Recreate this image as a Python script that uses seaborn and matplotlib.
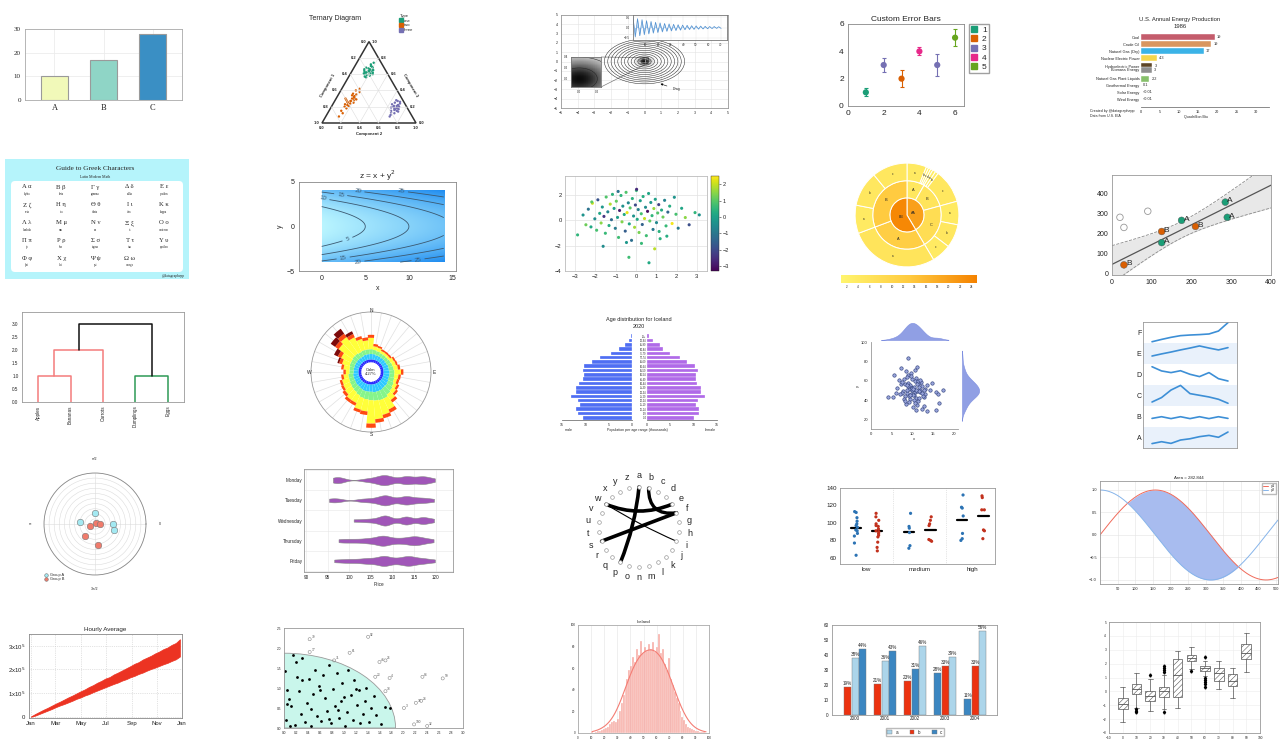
import numpy as np
import pandas as pd
import matplotlib.pyplot as plt
import seaborn as sns
from matplotlib.colors import LinearSegmentedColormap, Normalize
from matplotlib.cm import ScalarMappable
from matplotlib.lines import Line2D
from matplotlib.patches import Patch, Polygon, Rectangle, FancyBboxPatch, PathPatch, Wedge
from matplotlib.path import Path
from matplotlib.ticker import MultipleLocator

W, H = 1280, 740

# ---------------- data ----------------
# 1. simple bars
bar_cats = ["A", "B", "C"]
bar_vals = [10, 17, 28]
bar_colors = ["#f1f9b9", "#8fd5c6", "#3a8fc4"]

# 2. ternary diagram (component 2, component 3; component 1 = remainder)
tern_one_c2 = [0.15, 0.18, 0.20, 0.17, 0.22, 0.13, 0.19, 0.16, 0.21, 0.18, 0.14, 0.20, 0.23, 0.17,
               0.19, 0.12, 0.16, 0.21, 0.18, 0.15, 0.19, 0.24, 0.17, 0.20, 0.16, 0.18, 0.13, 0.22]
tern_one_c3 = [0.62, 0.66, 0.60, 0.70, 0.58, 0.64, 0.63, 0.67, 0.65, 0.59, 0.61, 0.68, 0.62, 0.63,
               0.56, 0.66, 0.72, 0.61, 0.64, 0.60, 0.69, 0.60, 0.57, 0.64, 0.62, 0.74, 0.68, 0.65]
tern_two_c2 = [0.17, 0.15, 0.19, 0.14, 0.20, 0.18, 0.16, 0.21, 0.13, 0.17, 0.19, 0.15, 0.22, 0.18, 0.16,
               0.14, 0.20, 0.17, 0.19, 0.12, 0.18, 0.16, 0.21, 0.15, 0.18, 0.10, 0.17, 0.14, 0.19, 0.13]
tern_two_c3 = [0.30, 0.25, 0.35, 0.20, 0.28, 0.32, 0.22, 0.38, 0.15, 0.27, 0.31, 0.34, 0.29, 0.24, 0.40,
               0.26, 0.30, 0.18, 0.42, 0.28, 0.33, 0.12, 0.25, 0.36, 0.21, 0.30, 0.27, 0.08, 0.31, 0.23]
tern_three_c2 = [0.68, 0.70, 0.66, 0.72, 0.65, 0.69, 0.71, 0.67, 0.74, 0.63, 0.70, 0.68, 0.66,
                 0.72, 0.69, 0.64, 0.71, 0.67, 0.70, 0.73, 0.66, 0.69, 0.68, 0.71, 0.65, 0.70]
tern_three_c3 = [0.18, 0.22, 0.20, 0.15, 0.25, 0.17, 0.12, 0.27, 0.14, 0.23, 0.19, 0.10, 0.21,
                 0.20, 0.16, 0.19, 0.24, 0.13, 0.26, 0.17, 0.15, 0.21, 0.08, 0.18, 0.28, 0.22]
tern_palette = {"one": "#1b9e77", "two": "#d95f02", "three": "#7570b3"}

# 3. zoom-inset demo: damped oscillation for the top inset
osc_vals = [0.50, -0.47, 0.44, -0.41, 0.39, -0.36, 0.34, -0.32, 0.30, -0.28, 0.26, -0.25, 0.23, -0.22,
            0.20, -0.19, 0.18, -0.17, 0.16, -0.15, 0.14, -0.13, 0.12, -0.11, 0.11, -0.10, 0.09, -0.09,
            0.08, -0.08, 0.07, -0.07, 0.06, -0.06, 0.05, -0.05, 0.05, -0.04, 0.04, -0.04]
OSC_STEP = 1.8

# 4. custom error bars
eb_x = [1, 2, 3, 4, 5, 6]
eb_y = [1, 3, 2, 4, 3, 5]
eb_err = [0.3, 0.5, 0.6, 0.3, 0.8, 0.6]
eb_group = ["1", "3", "2", "4", "3", "5"]
eb_palette = {"1": "#1b9e77", "2": "#d95f02", "3": "#7570b3", "4": "#e7298a", "5": "#66a61e"}

# 5. energy production 1986
en_names = ["Coal", "Crude Oil", "Natural Gas (Dry)", "Nuclear Electric Power", "Hydroelectric Power",
            "Biomass Energy", "Natural Gas Plant Liquids", "Geothermal Energy", "Solar Energy", "Wind Energy"]
en_vals = [19.4, 18.4, 16.5, 4.3, 3.0, 2.9, 2.2, 0.1, 0.005, 0.005]
en_labels = ["19", "19", "17", "4.3", "3", "3", "2.2", "0.1", "<0.01", "<0.01"]
en_rank = [0, 1, 2, 3, 4.1, 4.6, 5.9, 6.8, 7.8, 8.8]
en_colors = ["#c45c6c", "#d9965f", "#3bb3e7", "#f6d64c", "#5d4526", "#8f8f8f", "#87c06b",
             "#b07aa1", "#ffd700", "#aaddaa"]

# 6. greek characters
greek_pairs = ["Α α", "Β β", "Γ γ", "Δ δ", "Ε ε", "Ζ ζ", "Η η", "Θ θ", "Ι ι", "Κ κ", "Λ λ", "Μ μ",
               "Ν ν", "Ξ ξ", "Ο ο", "Π π", "Ρ ρ", "Σ σ", "Τ τ", "Υ υ", "Φ φ", "Χ χ", "Ψ ψ", "Ω ω"]
greek_names = ["alpha", "beta", "gamma", "delta", "epsilon", "zeta", "eta", "theta", "iota", "kappa",
               "lambda", "mu", "nu", "xi", "omicron", "pi", "rho", "sigma", "tau", "upsilon",
               "phi", "chi", "psi", "omega"]

# 7. contour levels
ct_levels = [5, 10, 15, 20, 25]

# 8. scatter with colour bar
sc_x = [-2.88, -2.61, -2.47, -2.35, -2.22, -2.15, -2.03, -1.94, -1.88, -1.79,
        -1.72, -1.66, -1.58, -1.51, -1.47, -1.39, -1.33, -1.27, -1.21, -1.16,
        -1.08, -1.02, -0.97, -0.91, -0.86, -0.81, -0.74, -0.69, -0.65, -0.58,
        -0.53, -0.49, -0.44, -0.38, -0.33, -0.29, -0.22, -0.18, -0.12, -0.07,
        -0.03, 0.02, 0.06, 0.11, 0.15, 0.21, 0.26, 0.31, 0.35, 0.42,
        0.47, 0.51, 0.57, 0.62, 0.68, 0.73, 0.79, 0.84, 0.88, 0.95,
        1.01, 1.07, 1.12, 1.19, 1.26, 1.33, 1.41, 1.48, 1.57, 1.66,
        1.78, 1.89, 1.97, 2.08, 2.25, 2.43, 2.62, 2.91, 3.12, -0.35,
        0.92, 0.64, -1.62, -0.88, 0.27, 1.52, -2.18, 0.03, 1.14, -0.47]
sc_y = [-1.15, 0.42, -0.35, 0.88, -0.52, 1.35, 0.12, -0.78, 1.62, 0.55,
        -0.21, 1.05, 0.31, -1.02, 1.84, 0.67, -0.41, 1.28, 0.05, 2.05,
        0.94, -0.63, 1.51, 0.23, -1.35, 0.78, 1.96, -0.12, 1.12, 0.46,
        -0.85, 2.21, 0.61, 1.38, -0.28, 0.98, -1.58, 1.72, 0.34, -0.55,
        1.21, 2.36, 0.08, 0.85, -0.96, 1.55, 0.52, -0.33, 1.88, 0.14,
        1.03, -1.21, 0.71, 2.12, -0.05, 1.41, 0.37, -0.72, 0.93, 1.66,
        -0.18, 0.58, 1.24, -1.45, 0.81, 0.26, 1.58, -0.44, 0.65, 1.12,
        -0.25, 1.82, 0.48, -0.62, 0.95, 0.22, -0.35, 0.61, 0.43, -2.92,
        -2.25, -3.35, -2.05, 2.28, -1.82, -1.25, 1.45, 2.45, -0.88, -1.75]
sc_c = [0.5, -0.3, 1.2, -1.1, 0.2, 2.1, -0.5, 0.8, -1.8, 0.1,
        1.5, -0.2, -2.4, 0.6, 0.9, -0.7, 0.3, 1.8, -1.3, 0.4,
        0.0, -0.9, 1.1, -0.1, 0.7, -2.8, 0.5, 1.4, -0.4, 0.2,
        -1.6, 0.9, 2.3, -0.6, 0.1, 1.0, -1.2, 0.4, -0.3, 1.7,
        -2.0, 0.6, 0.2, -0.8, 1.3, -0.1, 0.8, -1.5, 0.3, 2.0,
        -0.5, 0.7, -3.1, 0.1, 1.1, -0.2, 0.5, -1.0, 1.6, 0.0,
        -0.6, 0.9, -2.2, 0.4, 0.2, 1.2, -0.7, 0.6, -1.4, 0.3,
        2.4, -0.3, 0.8, -0.9, 0.1, 1.5, -1.9, 0.5, -0.4, 0.7,
        1.9, 0.2, -0.5, -1.1, 0.6, 0.3, 1.0, -2.6, 0.4, -0.2]

# 9. sunburst (sizes and colour values per ring)
sb_inner_labels = ["AA", "BB"]
sb_inner_vals = [17, 24]
sb_inner_heat = [20, 24]
sb_mid_labels = ["A", "B", "C", "A", "B"]
sb_mid_vals = [3.4, 5.1, 8.5, 11.4, 12.6]
sb_mid_heat = [5, 6, 8, 12, 13]
sb_outer_labels = ["a", "b", "c", "d", "a", "b", "c", "a", "b", "c", "a", "a", "b", "c"]
sb_outer_vals = [2.5, 0.3, 0.3, 0.3, 0.4, 0.4, 4.3, 3.0, 3.0, 2.5, 11.4, 3.6, 4.5, 4.5]
sb_outer_heat = [4, 3, 3, 3, 3, 3, 5, 4, 5, 4, 6, 4, 5, 5]

# 10. regression with labelled points
reg_x = [30, 125, 125, 175, 210, 285, 290]
reg_y = [45, 155, 210, 265, 235, 355, 280]
reg_grp = ["B", "A", "B", "A", "B", "A", "A"]
reg_out_x = [20, 30, 90]
reg_out_y = [280, 230, 310]
T_CRIT = 2.571

# 11. dendrogram (left, right, height, colour)
dendro_labels = ["Apples", "Bananas", "Carrots", "Dumplings", "Eggs"]
dendro_links = [(0, 1, 1.0, "#f47c7c"), (3, 4, 1.0, "#2e9a56"), (5, 2, 2.0, "#f47c7c"), (6, 7, 3.0, "#111111")]

# 12. wind rose (10 degree sectors, stacked speed bins)
wind_dirs = list(range(0, 360, 10))
CALM_R = 15
wind_blue = [6, 6, 6, 6, 6, 6, 6, 6, 6, 6, 6, 6, 6, 6, 6, 6, 6, 6,
             6, 6, 6, 6, 6, 6, 6, 6, 6, 6, 6, 6, 6, 6, 6, 6, 6, 6]
wind_cyan = [9, 9, 8, 8, 8, 8, 8, 9, 9, 10, 10, 10, 11, 12, 12, 13, 13, 13,
             12, 12, 12, 11, 10, 10, 9, 9, 9, 8, 8, 8, 8, 8, 8, 8, 9, 9]
wind_green = [8, 7, 7, 6, 6, 6, 7, 7, 8, 8, 8, 9, 10, 11, 13, 15, 15, 14,
              14, 13, 12, 11, 10, 9, 9, 8, 8, 7, 7, 8, 8, 9, 9, 8, 8, 8]
wind_yellow = [19, 6, 6, 4, 4, 4, 6, 6, 7, 11, 7, 5, 6, 7, 11, 20, 25, 31,
               39, 20, 20, 14, 16, 13, 12, 12, 8, 6, 10, 13, 18, 28, 33, 27, 19, 15]
wind_red = [5, 4, 3, 3, 3, 3, 3, 3, 4, 4, 4, 4, 4, 4, 5, 6, 6, 6,
            7, 6, 5, 5, 5, 5, 4, 4, 4, 4, 4, 5, 6, 7, 7, 6, 5, 5]
wind_dark = [0, 0, 0, 0, 0, 0, 0, 0, 0, 0, 0, 0, 0, 0, 0, 0, 0, 0,
             0, 0, 0, 0, 0, 0, 0, 0, 0, 0, 0, 3, 7, 9, 10, 5, 0, 0]
wind_colors = ["#2a2aff", "#2fcaff", "#86f58a", "#ffff3a", "#ff4a12", "#7d0a0a"]

# 13. Iceland population pyramid 2020 (thousands)
age_groups = ["0-4", "5-9", "10-14", "15-19", "20-24", "25-29", "30-34", "35-39", "40-44", "45-49",
              "50-54", "55-59", "60-64", "65-69", "70-74", "75-79", "80-84", "85-89", "90-94", "95+"]
male_vals = [10.6, 11.5, 12.0, 11.2, 11.5, 13.1, 12.0, 12.0, 11.3, 10.6,
             10.3, 10.4, 10.3, 8.5, 6.9, 4.5, 2.7, 1.6, 0.7, 0.3]
female_vals = [10.1, 11.2, 11.2, 10.6, 11.0, 12.4, 11.5, 11.5, 10.8, 10.4,
               10.4, 11.0, 10.2, 8.6, 7.0, 5.0, 3.5, 2.7, 1.2, 0.35]

# 14. joint plot
jx = [10.2, 8.7, 11.5, 9.4, 12.3, 7.8, 10.9, 9.1, 11.8, 8.2, 10.5, 13.1, 9.8, 7.2, 11.1, 10.0, 8.9, 12.7,
      9.5, 10.7, 6.8, 11.4, 9.2, 10.3, 13.6, 8.5, 10.8, 9.9, 12.0, 7.5, 10.1, 11.7, 8.0, 9.6, 14.2, 10.4,
      8.3, 11.2, 9.7, 12.5, 6.3, 10.6, 9.0, 11.9, 8.6, 10.2, 13.0, 9.3, 7.9, 11.3, 10.9, 8.8, 12.2, 9.4,
      5.2, 10.0, 11.6, 8.4, 9.8, 14.8, 7.0, 10.7, 12.8, 9.1, 11.0, 8.1, 10.3, 15.6, 9.6, 11.5, 7.6, 10.8,
      12.4, 8.9, 6.0, 11.8, 9.5, 10.1, 13.4, 8.7, 9.0, 16.5, 17.3, 4.2, 15.8, 5.6, 12.9, 7.3, 16.1, 11.1]
jy = [52, 47, 58, 41, 55, 49, 63, 38, 51, 44, 60, 46, 53, 57, 35, 50, 66, 43, 54, 48, 61, 39, 52, 45,
      56, 70, 42, 50, 59, 47, 33, 54, 62, 46, 51, 40, 57, 49, 68, 44, 53, 37, 58, 48, 64, 45, 52, 55,
      41, 60, 30, 50, 47, 56, 43, 62, 49, 36, 53, 58, 46, 72, 51, 44, 57, 39, 54, 48, 65, 42, 59, 50,
      31, 55, 47, 61, 45, 52, 28, 56, 84, 37, 50, 43, 29, 66, 34, 74, 46, 75]

# 15. stacked line rows
line_cats = ["A", "B", "C", "D", "E", "F"]
line_vals = [
    [0.21, 0.30, 0.22, 0.38, 0.44, 0.54, 0.60, 0.51, 0.76],
    [0.41, 0.49, 0.40, 0.49, 0.40, 0.49, 0.40, 0.49, 0.41],
    [0.19, 0.40, 0.76, 0.98, 0.59, 0.51, 0.43, 0.32, 0.13],
    [0.87, 0.67, 0.59, 0.68, 0.51, 0.40, 0.59, 0.30, 0.19],
    [0.38, 0.48, 0.57, 0.67, 0.76, 0.86, 0.76, 0.67, 0.78],
    [0.06, 0.17, 0.27, 0.35, 0.38, 0.40, 0.43, 0.57, 0.97],
]

# 16. polar scatter
pol_a_theta = [90, 173, 359, 342]
pol_a_r = [1.05, 1.45, 1.73, 2.0]
pol_b_theta = [205, 40, 0, 231, 279]
pol_b_r = [0.55, 0.08, 0.52, 1.5, 2.05]

# 17. violins
vio_days = ["Monday", "Tuesday", "Wednesday", "Thursday", "Friday"]
vio_prices = [
    [96.2, 97.0, 97.5, 98.4, 103.5, 105.0, 106.2, 107.0, 107.5, 108.0, 108.3, 108.8, 109.5, 110.3,
     112.2, 112.8, 113.2, 113.6, 114.5, 115.8, 116.6, 117.0, 117.5, 118.5, 119.8],
    [95.3, 96.5, 97.8, 102.5, 104.0, 105.5, 106.5, 107.5, 108.0, 108.3, 108.6, 109.0, 110.0, 111.5,
     112.5, 113.0, 113.4, 113.8, 115.0, 116.0, 117.0, 118.0, 119.6],
    [101.0, 103.0, 104.5, 105.8, 106.8, 107.5, 108.0, 108.3, 108.6, 109.2, 110.0, 111.5, 112.6, 113.0,
     113.4, 114.0, 115.2, 116.5, 117.0, 117.4, 118.5, 119.6],
    [97.5, 99.0, 100.5, 102.0, 103.5, 104.5, 105.5, 106.5, 107.0, 107.5, 108.0, 108.5, 109.0, 110.0,
     111.0, 112.0, 113.0, 113.8, 114.5, 115.0, 115.6, 116.2, 117.0, 118.0, 119.5],
    [96.5, 98.5, 100.0, 101.5, 103.0, 104.0, 105.0, 106.0, 107.0, 107.6, 108.0, 108.4, 109.0, 110.0,
     111.0, 112.0, 112.8, 113.3, 113.8, 114.4, 115.0, 116.0, 117.0, 118.0, 119.8],
]

# 18. circular network
chord_letters = list("abcdefghijklmnopqrstuvwxyz")
chord_edges = [("w", "e", 2.6), ("s", "f", 2.6), ("p", "a", 2.6), ("b", "f", 2.4), ("w", "i", 0.8)]

# 19. strip plot with means
strip_levels = ["low", "medium", "high"]
strip_blue = [[113, 112, 106, 102, 99, 97, 95, 92, 91, 88, 85, 77, 63],
              [111, 96, 94, 89, 74, 71],
              [132, 118, 117, 108, 88, 82, 80]]
strip_red = [[111, 107, 103, 99, 97, 96, 93, 91, 90, 88, 86, 84, 78, 72, 68],
             [107, 103, 99, 97, 81, 80, 79],
             [131, 129, 115, 115, 92, 91, 82]]

# 20. sin / cos area
WAVE_SCALE = 100.0
WAVE_XMAX = 505

# 21. hourly average band (units of 1e5)
hr_days = list(range(0, 361, 10))
hr_high = [0.02, 0.12, 0.21, 0.30, 0.38, 0.47, 0.56, 0.64, 0.73, 0.82, 0.90, 0.99, 1.08, 1.16, 1.26, 1.34,
           1.44, 1.52, 1.62, 1.68, 1.79, 1.87, 1.96, 2.05, 2.14, 2.24, 2.31, 2.42, 2.50, 2.58, 2.68, 2.76,
           2.86, 2.93, 3.04, 3.12, 3.28]
hr_low = [0.00, 0.05, 0.12, 0.19, 0.26, 0.33, 0.41, 0.48, 0.54, 0.61, 0.68, 0.76, 0.82, 0.90, 0.96, 1.04,
          1.11, 1.18, 1.25, 1.32, 1.39, 1.45, 1.53, 1.59, 1.67, 1.73, 1.81, 1.87, 1.95, 2.02, 2.08, 2.15,
          2.22, 2.28, 2.36, 2.43, 2.55]
month_pos = [0, 59, 120, 181, 243, 304, 365]
month_lab = ["Jan", "Mar", "May", "Jul", "Sep", "Nov", "Jan"]

# 22. quarter circle scatter
Q_RADIUS = 1.87
q_in_x = [0.02, 0.05, 0.08, 0.03, 0.12, 0.15, 0.18, 0.22, 0.25, 0.28, 0.31, 0.35, 0.38, 0.42, 0.45,
          0.48, 0.52, 0.55, 0.58, 0.62, 0.65, 0.68, 0.72, 0.75, 0.78, 0.82, 0.85, 0.88, 0.92, 0.95,
          0.98, 1.02, 1.05, 1.08, 1.12, 1.15, 1.18, 1.22, 1.25, 1.28, 1.32, 1.35, 1.38, 1.42, 1.45,
          1.5, 1.55, 1.62, 1.7, 1.78, 0.1, 0.3, 0.6, 0.9, 1.2, 0.45, 0.75, 0.2, 1.0, 0.05]
q_in_y = [1.42, 0.95, 0.72, 0.2, 0.55, 1.82, 0.08, 1.28, 0.92, 0.35, 1.75, 0.15, 0.62, 1.22, 0.05,
          0.85, 1.45, 0.3, 1.05, 0.18, 1.33, 0.75, 0.42, 1.58, 0.12, 0.98, 0.55, 1.37, 0.25, 0.68,
          1.12, 0.05, 0.4, 1.44, 0.82, 0.2, 1.2, 0.58, 0.95, 0.12, 0.35, 0.68, 1.0, 0.15, 0.5,
          0.8, 0.32, 0.1, 0.52, 0.5, 0.05, 1.2, 0.95, 0.45, 0.98, 0.48, 0.22, 1.65, 0.78, 0.6]
q_out_x = [0.43, 1.41, 0.43, 0.84, 1.10, 1.60, 1.70, 1.53, 1.77, 1.70, 2.32, 2.66, 2.01, 2.21, 2.30, 2.18, 2.40]
q_out_y = [2.22, 2.28, 1.90, 1.69, 1.88, 1.65, 1.69, 1.28, 1.25, 0.92, 1.28, 1.24, 0.50, 0.63, 0.68, 0.09, 0.05]
q_out_lab = ["79", "92", "17", "71", "61", "46", "26", "23", "4", "33", "84", "59", "3", "38", "24", "100", "32"]

# 23. histogram (bins of width 1.5 starting at 10)
HIST_START, HIST_WIDTH = 10.0, 1.5
hist_counts = [1, 0, 1, 2, 2, 3, 4, 5, 6, 8, 10, 11, 10, 13, 20, 28, 35, 42, 50, 58,
               62, 70, 66, 78, 72, 85, 74, 80, 76, 82, 78, 84, 75, 80, 92, 74, 78, 64, 58, 69,
               50, 44, 38, 32, 28, 20, 15, 12, 8, 6, 5, 4, 3, 2, 2, 1, 1, 1, 0]

# 24. grouped bars (sorted within group)
gb_years = ["2000", "2001", "2002", "2003", "2004"]
gb_a = [38, 36, 46, 39, 56]
gb_b = [19, 21, 23, 33, 33]
gb_c = [44, 43, 31, 28, 11]
gb_colors = {"a": "#acd5ea", "b": "#ec3210", "c": "#3b86c1"}

# 25. hatched box plots
box_pos = [0, 10, 20, 30, 40, 50, 60, 70, 80, 90]
box_q1 = [-1.3, -0.2, -0.7, -0.4, -0.4, 2.2, 1.5, 0.75, 0.4, 2.3]
box_med = [-0.9, 0.15, -0.3, 0.0, 1.2, 2.4, 1.65, 1.35, 0.75, 2.75]
box_q3 = [-0.5, 0.5, 0.0, 0.3, 2.3, 2.65, 1.8, 1.7, 1.25, 3.4]
box_lo = [-2.2, -1.2, -1.4, -1.3, -1.2, 1.6, 1.1, 0.2, -0.5, 1.4]
box_hi = [0.3, 1.3, 0.9, 1.2, 2.9, 3.2, 2.2, 2.2, 1.7, 4.2]
box_fliers = [[], [-1.3, -1.4, -1.5], [1.15], [1.4, 1.55, 1.7, 1.85, -1.5], [], [1.5],
              [2.5, 1.0, 0.85, 0.7, 0.5, 0.3], [], [], []]

# ---------------- style ----------------
sns.set_style("white")
plt.rcParams["font.family"] = ["Liberation Sans", "DejaVu Sans"]
plt.rcParams["hatch.linewidth"] = 0.4
SERIF = ["Liberation Serif", "DejaVu Serif"]

fig = plt.figure(figsize=(12.8, 7.4), dpi=100)
fig.patch.set_facecolor("white")


def add_ax(x, y, w, h, **kw):
    return fig.add_axes([x / W, 1 - (y + h) / H, w / W, h / H], **kw)


def ftext(x, y, s, **kw):
    fig.text(x / W, 1 - y / H, s, **kw)


def tiny(ax, size=3.5, length=1.5, color="#888888"):
    ax.tick_params(which="both", labelsize=size, length=length, width=0.4, pad=1,
                   color=color, labelcolor="#222222")
    ax.tick_params(which="minor", length=length * 0.6)
    for sp in ax.spines.values():
        sp.set_linewidth(0.6)
        sp.set_color(color)


# ---- 1. bar chart ----
ax = add_ax(25, 29, 157, 71)
sns.barplot(x=bar_cats, y=bar_vals, hue=bar_cats, palette=bar_colors, legend=False, width=0.55,
            edgecolor="#9a9a9a", linewidth=0.8, saturation=1, ax=ax)
ax.set_xlim(-0.6, 2.6)
ax.set_ylim(0, 30)
ax.set_yticks([0, 10, 20, 30])
ax.yaxis.set_minor_locator(MultipleLocator(2))
ax.grid(True, color="#ececec", lw=0.6)
ax.set_axisbelow(True)
tiny(ax, 5, 2, "#aaaaaa")
for lab in ax.get_xticklabels() + ax.get_yticklabels():
    lab.set_family(SERIF)
ax.tick_params(axis="x", labelsize=6)

# ---- 2. ternary ----
ax = add_ax(290, 8, 150, 137)
ax.set_xlim(-32 / 94, 118 / 94)
ax.set_ylim(-22 / 94, 115 / 94)
ax.axis("off")
h3 = np.sqrt(3) / 2
for t in [0.2, 0.4, 0.6, 0.8]:
    ax.plot([t / 2, 1 - t / 2], [t * h3, t * h3], color="#dddddd", lw=0.4)
    ax.plot([t, t + (1 - t) / 2], [0, (1 - t) * h3], color="#dddddd", lw=0.4)
    ax.plot([1 - t, (1 - t) / 2], [0, (1 - t) * h3], color="#dddddd", lw=0.4)
ax.add_patch(Polygon([(0, 0), (1, 0), (0.5, h3)], closed=True, fill=False, ec="#333333", lw=1.1))
for t in np.arange(0, 1.01, 0.2):
    ax.text(t, -0.05, f"{t:.1f}", ha="center", va="center", fontsize=3, weight="bold")
    ax.text((1 - t) / 2 - 0.06, (1 - t) * h3, f"{t:.1f}", ha="center", va="center", fontsize=3, weight="bold")
    ax.text(1 - t / 2 + 0.06, t * h3, f"{t:.1f}", ha="center", va="center", fontsize=3, weight="bold")
ax.text(0.06, 0.40, "Component 1", rotation=60, ha="center", va="center", fontsize=3, weight="bold")
ax.text(0.94, 0.40, "Component 3", rotation=-60, ha="center", va="center", fontsize=3, weight="bold")
ax.text(0.5, -0.12, "Component 2", ha="center", va="center", fontsize=3, weight="bold")
tern_rows = []
for name, c2s, c3s in [("one", tern_one_c2, tern_one_c3), ("two", tern_two_c2, tern_two_c3),
                       ("three", tern_three_c2, tern_three_c3)]:
    for c2, c3 in zip(c2s, c3s):
        tern_rows.append((name, c2 + c3 / 2, c3 * h3))
tern_df = pd.DataFrame(tern_rows, columns=["Type", "px", "py"])
sns.scatterplot(data=tern_df, x="px", y="py", hue="Type", palette=tern_palette, s=3, linewidth=0,
                legend=False, ax=ax)
ax.text(-0.14, 1.117, "Ternary Diagram", fontsize=5, va="center")
handles = [Line2D([], [], marker="s", ls="", color=c, ms=2.5, label=k) for k, c in tern_palette.items()]
ax.legend(handles=handles, title="Type", loc="upper left", bbox_to_anchor=(0.72, 0.97), frameon=False,
          fontsize=3, title_fontsize=3, handlelength=0.6, handletextpad=0.3, labelspacing=0.15,
          borderpad=0, alignment="left")

# ---- 3. zoom inset demo ----
ax = add_ax(561, 15, 167, 93)
gx = np.linspace(-5, 5, 400)
GX, GY = np.meshgrid(gx, gx)
GR = np.hypot(GX, GY)
field = np.exp(-(GR / 0.35) ** 2)
ax.imshow(field, extent=(-5, 5, -5, 5), origin="lower", cmap="gray_r", vmin=0, vmax=1.05,
          aspect="auto", zorder=0)
ax.contour(GX, GY, GR, levels=np.arange(0.2, 2.45, 0.2), colors="#222222", linewidths=0.35)
ax.set_xlim(-5, 5)
ax.set_ylim(-5, 5)
ax.set_xticks(range(-5, 6))
ax.set_yticks(range(-5, 6))
ax.xaxis.set_minor_locator(MultipleLocator(0.25))
ax.yaxis.set_minor_locator(MultipleLocator(0.25))
ax.grid(True, color="#e4e4e4", lw=0.4)
tiny(ax, 2.6, 1.2, "#999999")
ax.annotate("Drag", xy=(0.8, -2.3), xytext=(1.7, -3.0), fontsize=2.6, va="center",
            arrowprops=dict(arrowstyle="-|>", lw=0.4, color="black", mutation_scale=3))
axi = add_ax(571, 57, 30, 30)
axi.imshow(field, extent=(-5, 5, -5, 5), origin="lower", cmap="gray_r", vmin=0, vmax=1.05, aspect="auto")
axi.contour(GX, GY, GR, levels=np.arange(0.2, 2.45, 0.2), colors="#222222", linewidths=0.35)
axi.set_xlim(-0.09, 0.24)
axi.set_ylim(-0.15, 0.40)
axi.set_xticks([0, 0.2])
axi.set_yticks([0, 0.2, 0.4])
tiny(axi, 2.2, 1, "#777777")
ax.indicate_inset_zoom(axi, edgecolor="black", lw=0.5)
axt = add_ax(633, 15, 94, 25)
ox = np.arange(len(osc_vals)) * OSC_STEP
axt.fill_between(ox, osc_vals, 0, color="#a9cbee", lw=0)
axt.plot(ox, osc_vals, color="#4f8fcf", lw=0.5)
axt.set_xlim(0, 75)
axt.set_ylim(-0.62, 0.62)
axt.set_xticks(range(10, 71, 10))
axt.set_yticks([-0.5, 0, 0.5])
axt.grid(True, color="#e4e4e4", lw=0.3)
tiny(axt, 2.2, 1, "#777777")

# ---- 4. custom error bars ----
ax = add_ax(848, 24, 116, 82)
for x, y, e, g in zip(eb_x, eb_y, eb_err, eb_group):
    ax.errorbar(x, y, yerr=e, fmt="none", ecolor=eb_palette[g], elinewidth=0.8, capsize=1.6, capthick=0.8)
sns.scatterplot(x=eb_x, y=eb_y, hue=eb_group, palette=eb_palette, s=20, linewidth=0, legend=False,
                ax=ax, zorder=3)
ax.set_xlim(0, 6.5)
ax.set_ylim(0, 6)
ax.set_xticks([0, 2, 4, 6])
ax.set_yticks([0, 2, 4, 6])
tiny(ax, 6, 2, "#888888")
ax.set_title("Custom Error Bars", fontsize=6, pad=2)
handles = [Line2D([], [], marker="s", ls="", color=c, ms=5, label=k) for k, c in eb_palette.items()]
ax.legend(handles=handles, loc="upper left", bbox_to_anchor=(1.04, 1.0), fontsize=6, frameon=True,
          fancybox=False, edgecolor="#888888", handlelength=0.8, handletextpad=0.5, labelspacing=0.15,
          borderpad=0.3, borderaxespad=0)

# ---- 5. energy production ----
ax = add_ax(1141, 33, 128, 74)
ax.barh(en_rank, en_vals, height=0.85, color=en_colors, edgecolor="white", lw=0.3)
for r, v, lab in zip(en_rank, en_vals, en_labels):
    ax.text(v + 0.5, r, lab, fontsize=2.8, va="center")
ax.set_ylim(9.9, -0.6)
ax.set_xlim(0, 33.5)
ax.set_yticks(en_rank)
ax.set_yticklabels(en_names)
ax.set_xticks(range(0, 31, 5))
ax.xaxis.set_minor_locator(MultipleLocator(1))
tiny(ax, 2.8, 1.2, "#777777")
ax.tick_params(axis="y", length=0)
for s in ["top", "right", "left"]:
    ax.spines[s].set_visible(False)
ftext(1180, 19, "U.S. Annual Energy Production", fontsize=4.2, ha="center", va="center")
ftext(1180, 26, "1986", fontsize=4.2, ha="center", va="center")
ftext(1196, 117, "Quadrillion Btu", fontsize=2.6, ha="center", va="center")
ftext(1090, 111, "Created by @datagraphapp", fontsize=2.6, va="center")
ftext(1090, 116, "Data from U.S. EIA", fontsize=2.6, va="center")

# ---- 6. greek characters ----
ax = add_ax(5, 159, 184, 120)
ax.set_xlim(0, 184)
ax.set_ylim(120, 0)
ax.axis("off")
ax.add_patch(Rectangle((0, 0), 184, 120, color="#b5f4fb", lw=0))
ax.add_patch(FancyBboxPatch((6, 22), 172, 91, boxstyle="round,pad=0,rounding_size=4", fc="white", ec="none"))
ax.text(90, 9, "Guide to Greek Characters", fontsize=5.2, ha="center", va="center", family=SERIF)
ax.text(90, 18, "Latin Modern Math", fontsize=2.8, ha="center", va="center", family=SERIF)
for i, (pair, name) in enumerate(zip(greek_pairs, greek_names)):
    cx = 22 + 34.2 * (i % 5)
    cy = 28 + 17.8 * (i // 5)
    ax.text(cx, cy, pair, fontsize=4.8, ha="center", va="center", family=SERIF)
    ax.text(cx, cy + 7, name, fontsize=2.2, ha="center", va="center", family=SERIF)
ax.text(180, 117, "@datagraphapp", fontsize=2.6, ha="right", va="center", family=SERIF)

# ---- 7. contour ----
ax = add_ax(299, 182, 157, 89)
cx_ = np.linspace(0, 14, 200)
cy_ = np.linspace(-4, 4, 200)
CX, CY = np.meshgrid(cx_, cy_)
CZ = CX + CY ** 2
ct_cmap = LinearSegmentedColormap.from_list("ct", ["#b9f5ff", "#1f8cf0"])
ax.imshow(CZ, extent=(0, 14, -4, 4), origin="lower", cmap=ct_cmap, aspect="auto")
cs = ax.contour(CX, CY, CZ, levels=ct_levels, colors="#3b5870", linewidths=0.6)
ax.clabel(cs, inline=True, fontsize=4.5, fmt="%d")
ax.set_xlim(-2.6, 15.4)
ax.set_ylim(-5, 5)
ax.set_xticks([0, 5, 10, 15])
ax.set_yticks([-5, 0, 5])
ax.xaxis.set_minor_locator(MultipleLocator(1))
ax.yaxis.set_minor_locator(MultipleLocator(1))
tiny(ax, 5, 2, "#888888")
ax.set_title("z = x + y$^2$", fontsize=6, pad=2)
ax.set_xlabel("x", fontsize=5, labelpad=2)
ax.set_ylabel("y", fontsize=5, labelpad=2)

# ---- 8. scatter with colorbar ----
ax = add_ax(565, 176, 142, 95)
sc_norm = Normalize(-3.3, 2.5)
sns.scatterplot(x=sc_x, y=sc_y, hue=sc_c, palette="viridis", hue_norm=sc_norm, s=5, linewidth=0,
                legend=False, ax=ax)
ax.set_xlim(-3.5, 3.5)
ax.set_ylim(-4, 3.5)
ax.set_xticks(range(-3, 4))
ax.set_yticks([-4, -2, 0, 2])
ax.grid(True, color="#e2e2e2", lw=0.5)
tiny(ax, 4.2, 1.5, "#bbbbbb")
cax = add_ax(711, 176, 8, 95)
cb = fig.colorbar(ScalarMappable(norm=sc_norm, cmap="viridis"), cax=cax, ticks=[-3, -2, -1, 0, 1, 2])
cb.outline.set_linewidth(0.3)
cax.tick_params(labelsize=4, length=1.5, width=0.4, pad=1)

# ---- 9. sunburst ----
ax = add_ax(852, 160, 110, 110)
sb_cmap = LinearSegmentedColormap.from_list("sb", ["#fff56e", "#ffcb40", "#f58200"])
sb_norm = Normalize(1, 25)


def ring(vals, heat, labels, r, w, fs):
    wedges, _ = ax.pie(vals, radius=r, startangle=90, counterclock=False,
                       colors=[sb_cmap(sb_norm(v)) for v in heat],
                       wedgeprops=dict(width=w, edgecolor="white", linewidth=0.7))
    for wd, lab in zip(wedges, labels):
        ang = np.deg2rad((wd.theta1 + wd.theta2) / 2)
        rr = r - w / 2 if w < r else 0.12
        ax.text(rr * np.cos(ang), rr * np.sin(ang), lab, ha="center", va="center", fontsize=fs)


ring(sb_inner_vals, sb_inner_heat, sb_inner_labels, 0.33, 0.33, 2.6)
ring(sb_mid_vals, sb_mid_heat, sb_mid_labels, 0.66, 0.33, 2.8)
ring(sb_outer_vals, sb_outer_heat, sb_outer_labels, 1.0, 0.34, 2.2)
ax.set_xlim(-1.06, 1.06)
ax.set_ylim(-1.06, 1.06)
ax.set_aspect("equal")
cax = add_ax(841, 275, 136, 8)
cb = fig.colorbar(ScalarMappable(norm=sb_norm, cmap=sb_cmap), cax=cax, orientation="horizontal",
                  ticks=range(2, 25, 2))
cb.outline.set_visible(False)
cax.tick_params(labelsize=2.2, length=0, pad=1.5)

# ---- 10. regression ----
ax = add_ax(1112, 175, 159, 100)
rx = np.array(reg_x, float)
ry = np.array(reg_y, float)
slope, icpt = np.polyfit(rx, ry, 1)
n = len(rx)
resid = ry - (slope * rx + icpt)
s_err = np.sqrt(np.sum(resid ** 2) / (n - 2))
lx = np.linspace(0, 400, 200)
fit = slope * lx + icpt
half = T_CRIT * s_err * np.sqrt(1 / n + (lx - rx.mean()) ** 2 / np.sum((rx - rx.mean()) ** 2))
ax.fill_between(lx, fit - half, fit + half, color="#e8e8e8", lw=0)
ax.plot(lx, fit - half, ls="--", color="#8a8a8a", lw=0.6)
ax.plot(lx, fit + half, ls="--", color="#8a8a8a", lw=0.6)
ax.plot(lx, fit, color="#555555", lw=0.9)
ax.scatter(reg_out_x, reg_out_y, s=22, facecolors="none", edgecolors="#999999", lw=0.6)
sns.scatterplot(x=reg_x, y=reg_y, hue=reg_grp, palette={"A": "#1b9e77", "B": "#d95f02"}, s=24,
                edgecolor="#555555", linewidth=0.3, legend=False, ax=ax, zorder=3)
for x, y, g in zip(reg_x, reg_y, reg_grp):
    ax.text(x + 5, y + 6, g, fontsize=6, va="center")
ax.set_xlim(0, 400)
ax.set_ylim(-5, 489)
ax.set_xticks(range(0, 401, 100))
ax.set_yticks(range(0, 401, 100))
ax.xaxis.set_minor_locator(MultipleLocator(20))
ax.yaxis.set_minor_locator(MultipleLocator(20))
tiny(ax, 5, 1.6, "#999999")

# ---- 11. dendrogram ----
ax = add_ax(22, 312, 162, 90)
pos = {i: 5 + 10 * i for i in range(len(dendro_labels))}
hgt = {i: 0.0 for i in range(len(dendro_labels))}
for k, (a, b, hh, col) in enumerate(dendro_links):
    ax.plot([pos[a], pos[a], pos[b], pos[b]], [hgt[a], hh, hh, hgt[b]], color=col, lw=1.1)
    pos[len(dendro_labels) + k] = (pos[a] + pos[b]) / 2
    hgt[len(dendro_labels) + k] = hh
ax.set_xlim(0, 50)
ax.set_ylim(0, 3.45)
ax.set_xticks([5 + 10 * i for i in range(len(dendro_labels))])
ax.set_xticklabels(dendro_labels, rotation=90)
ax.set_yticks(np.arange(0, 3.01, 0.5))
ax.yaxis.set_minor_locator(MultipleLocator(0.1))
tiny(ax, 3.3, 1.5, "#999999")

# ---- 12. wind rose ----
ax = add_ax(311, 312, 120, 120, projection="polar")
ax.set_theta_zero_location("N")
ax.set_theta_direction(-1)
ax.set_axisbelow(True)
theta = np.deg2rad(wind_dirs)
bottom = np.full(len(wind_dirs), float(CALM_R))
for vals, col in zip([wind_blue, wind_cyan, wind_green, wind_yellow, wind_red, wind_dark], wind_colors):
    ax.bar(theta, vals, width=np.deg2rad(10), bottom=bottom, color=col, edgecolor="none", zorder=2)
    bottom = bottom + np.array(vals, float)
ax.bar(0, CALM_R, width=2 * np.pi, bottom=0, color="white", zorder=3)
ax.text(0, 0, "Calm\n4.27%", ha="center", va="center", fontsize=3, zorder=4, linespacing=1.1)
ax.set_ylim(0, 100)
ax.set_yticks([])
ax.set_xticks(np.deg2rad(np.arange(0, 360, 10)))
ax.set_xticklabels([])
ax.grid(True, color="#e0e0e0", lw=0.5)
ax.spines["polar"].set_color("#999999")
ax.spines["polar"].set_linewidth(0.6)
ftext(371, 311, "N", fontsize=3.5, ha="center", va="center")
ftext(371, 434, "S", fontsize=3.5, ha="center", va="center")
ftext(309, 372, "W", fontsize=3.5, ha="center", va="center")
ftext(434, 372, "E", fontsize=3.5, ha="center", va="center")

# ---- 13. population pyramid ----
pyr = pd.DataFrame({"age": age_groups, "male": male_vals, "female": female_vals})
order = age_groups[::-1]
axm = add_ax(562, 334, 70, 86)
sns.barplot(data=pyr, x="male", y="age", order=order, orient="h", color="#4f6ef3", saturation=1,
            width=0.85, edgecolor="white", linewidth=0.2, ax=axm)
axm.set_xlim(15, 0)
axm.set_yticks([])
axm.set_xticks([15, 10, 5, 0])
axm.set_xlabel("")
axm.set_ylabel("")
axf = add_ax(647, 334, 70, 86)
sns.barplot(data=pyr, x="female", y="age", order=order, orient="h", color="#b06ae8", saturation=1,
            width=0.85, edgecolor="white", linewidth=0.2, ax=axf)
axf.set_xlim(0, 15)
axf.set_xticks([0, 5, 10, 15])
axf.set_xlabel("")
axf.set_ylabel("")
for a_ in (axm, axf):
    tiny(a_, 2.5, 1.2, "#777777")
    for s in ["top", "right", "left"]:
        a_.spines[s].set_visible(False)
axf.tick_params(axis="y", labelsize=1.8, length=0, pad=0.5)
ftext(639, 320, "Age distribution for Iceland", fontsize=4, ha="center", va="center")
ftext(639, 327, "2020", fontsize=4, ha="center", va="center")
ftext(565, 430, "male", fontsize=2.6, ha="left", va="center")
ftext(716, 430, "female", fontsize=2.6, ha="right", va="center")
ftext(637, 430, "Population per age range (thousands)", fontsize=2.6, ha="center", va="center")

# ---- 14. joint plot ----
axj = add_ax(871, 342, 87, 87)
sns.scatterplot(x=jx, y=jy, s=6, color="#9aa5dc", edgecolor="#34457e", linewidth=0.45, ax=axj)
axj.set_xlim(0, 21)
axj.set_ylim(9.5, 101)
axj.set_xticks([0, 5, 10, 15, 20])
axj.set_yticks([20, 40, 60, 80, 100])
axj.xaxis.set_minor_locator(MultipleLocator(1))
tiny(axj, 3, 1.2, "#999999")
for s in ["top", "right"]:
    axj.spines[s].set_visible(False)
axj.set_xlabel("x", fontsize=3, labelpad=1)
axj.set_ylabel("y", fontsize=3, labelpad=1)
axx = add_ax(871, 322, 87, 18)
sns.kdeplot(x=jx, fill=True, clip=(2.4, 18.7), color="#7d8ee0", alpha=0.85, linewidth=0.4, ax=axx)
axx.set_xlim(0, 21)
axx.axis("off")
axy = add_ax(962, 342, 18, 87)
sns.kdeplot(y=jy, fill=True, clip=(18, 92), color="#7d8ee0", alpha=0.85, linewidth=0.4, ax=axy)
axy.set_ylim(9.5, 101)
axy.axis("off")

# ---- 15. stacked rows of lines ----
ax = add_ax(1143, 322, 94, 126)
for i, vals in enumerate(line_vals):
    if i % 2 == 0:
        ax.axhspan(i, i + 1, color="#e9f1fb", lw=0)
    ax.plot(range(len(vals)), i + np.array(vals), color="#3d8fd6", lw=1.2)
ax.set_ylim(0, len(line_cats))
ax.set_xlim(-0.95, 8.95)
ax.set_yticks(np.arange(len(line_cats)) + 0.5)
ax.set_yticklabels(line_cats)
ax.set_yticks(range(len(line_cats) + 1), minor=True)
ax.set_xticks([])
tiny(ax, 5, 0, "#999999")
ax.tick_params(axis="y", which="minor", length=2)

# ---- 16. polar scatter ----
ax = add_ax(44, 473, 102, 102, projection="polar")
ax.set_ylim(0, 5)
ax.set_yticks(np.arange(0.5, 5.01, 0.5))
ax.set_yticklabels([])
ax.set_xticks(np.deg2rad([0, 90, 180, 270]))
ax.set_xticklabels(["0", "π/2", "π", "3π/2"], fontsize=2.6)
ax.tick_params(pad=-0.5)
ax.grid(True, color="#dcdcdc", lw=0.4)
ax.spines["polar"].set_color("#888888")
ax.spines["polar"].set_linewidth(0.6)
ax.scatter(np.deg2rad(pol_a_theta), pol_a_r, s=22, c="#a3e9f2", edgecolors="#777777", lw=0.4, zorder=3,
           label="Group A")
ax.scatter(np.deg2rad(pol_b_theta), pol_b_r, s=22, c="#f07b6b", edgecolors="#777777", lw=0.4, zorder=3,
           label="Group B")
ax.legend(loc="lower left", bbox_to_anchor=(-0.04, -0.08), fontsize=2.8, frameon=False,
          handletextpad=0.2, markerscale=0.55, labelspacing=0.1, borderpad=0)

# ---- 17. violins ----
vdf = pd.DataFrame([(d, p) for d, ps in zip(vio_days, vio_prices) for p in ps], columns=["Day", "Price"])
ax = add_ax(304, 469, 149, 103)
sns.violinplot(data=vdf, x="Price", y="Day", order=vio_days, orient="h", color="#a056b8", saturation=1,
               inner=None, cut=0, bw_adjust=0.35, density_norm="width", width=0.5, linewidth=0.4,
               linecolor="#888888", ax=ax)
ax.set_xlim(89.5, 124)
ax.set_ylim(4.55, -0.55)
ax.set_xticks(range(90, 121, 5))
ax.xaxis.set_minor_locator(MultipleLocator(1))
ax.set_yticks(np.arange(-0.5, 5, 1), minor=True)
ax.grid(True, axis="x", color="#e6e6e6", lw=0.4)
ax.grid(True, axis="y", which="minor", color="#e6e6e6", lw=0.4)
ax.set_axisbelow(True)
tiny(ax, 3.3, 1.2, "#999999")
ax.tick_params(axis="y", which="both", length=0)
ax.set_ylabel("")
ax.set_xlabel("Price", fontsize=3.3, labelpad=1.5)

# ---- 18. circular network ----
ax = add_ax(579, 467, 120, 120)
ax.set_xlim(-1.2, 1.2)
ax.set_ylim(-1.2, 1.2)
ax.axis("off")
n_ch = len(chord_letters)
ang = np.pi / 2 - 2 * np.pi * np.arange(n_ch) / n_ch
node_xy = {c: (0.8 * np.cos(a_), 0.8 * np.sin(a_)) for c, a_ in zip(chord_letters, ang)}
for a, b, lw in chord_edges:
    p0 = np.array(node_xy[a])
    p1 = np.array(node_xy[b])
    ctrl = (p0 + p1) / 2 * 0.4
    ax.add_patch(PathPatch(Path([p0, ctrl, p1], [Path.MOVETO, Path.CURVE3, Path.CURVE3]),
                           fc="none", ec="black", lw=lw, capstyle="round"))
ax.scatter([v[0] for v in node_xy.values()], [v[1] for v in node_xy.values()], s=7, facecolors="white",
           edgecolors="#9a9a9a", lw=0.5, zorder=3)
for c, a_ in zip(chord_letters, ang):
    ax.text(1.02 * np.cos(a_), 1.02 * np.sin(a_), c, ha="center", va="center", fontsize=6.5)

# ---- 19. strip plot ----
srows = []
for lev, bl, rd in zip(strip_levels, strip_blue, strip_red):
    srows += [(lev, "blue", v) for v in bl] + [(lev, "red", v) for v in rd]
sdf = pd.DataFrame(srows, columns=["level", "group", "value"])
ax = add_ax(840, 488, 155, 76)
sns.stripplot(data=sdf, x="level", y="value", hue="group", order=strip_levels, dodge=True, jitter=0.06,
              size=2.3, palette={"blue": "#2c73b4", "red": "#c2311d"}, legend=False, ax=ax)
means = sdf.groupby(["level", "group"])["value"].mean()
for i, lev in enumerate(strip_levels):
    for off, g in [(-0.2, "blue"), (0.2, "red")]:
        ax.plot([i + off - 0.1, i + off + 0.1], [means[(lev, g)]] * 2, color="black", lw=1.6)
for xv in [0.5, 1.5]:
    ax.axvline(xv, color="#cccccc", lw=0.5, ls=":")
ax.set_xlim(-0.5, 2.42)
ax.set_ylim(53, 140)
ax.set_yticks(range(60, 141, 20))
ax.yaxis.set_minor_locator(MultipleLocator(10))
tiny(ax, 4.5, 1.5, "#999999")
ax.set_xlabel("")
ax.set_ylabel("")

# ---- 20. sin/cos area ----
ax = add_ax(1100, 481, 178, 103)
wx = np.arange(0, WAVE_XMAX + 1)
y1 = np.sin(wx / WAVE_SCALE)
y2 = np.cos(wx / WAVE_SCALE)
ax.fill_between(wx, y1, y2, where=y1 >= y2, interpolate=True, color="#a8bcef", lw=0)
ax.plot(wx, y1, color="#f06a5a", lw=0.7, label="y1")
ax.plot(wx, y2, color="#86b4ea", lw=0.7, label="y2")
area = np.trapezoid(np.where(y1 > y2, y1 - y2, 0), wx)
ax.set_title(f"Area = {area:.3f}", fontsize=3.2, pad=1.5)
ax.set_xlim(0, WAVE_XMAX)
ax.set_ylim(-1.09, 1.2)
ax.set_xticks(range(50, 501, 50))
ax.set_yticks([-1.0, -0.5, 0, 0.5, 1.0])
ax.xaxis.set_minor_locator(MultipleLocator(10))
ax.yaxis.set_minor_locator(MultipleLocator(0.1))
ax.grid(True, color="#e4e4e4", lw=0.4)
tiny(ax, 2.8, 1.2, "#999999")
ax.legend(loc="upper right", fontsize=2.8, handlelength=1.2, borderpad=0.3, labelspacing=0.1,
          fancybox=False, edgecolor="#aaaaaa")

# ---- 21. hourly average ----
ax = add_ax(29, 634, 153, 84)
ax.fill_between(hr_days, hr_low, hr_high, color="#ec3322", lw=0.5, edgecolor="#ec3322")
ax.set_xlim(-5, 365)
ax.set_ylim(-0.05, 3.5)
ax.set_xticks(month_pos)
ax.set_xticklabels(month_lab)
ax.set_yticks([0, 1, 2, 3])
ax.set_yticklabels(["0", "1x10$^5$", "2x10$^5$", "3x10$^5$"])
ax.grid(True, ls=":", color="#c8c8c8", lw=0.5)
tiny(ax, 4.3, 1.5, "#888888")
ax.set_title("Hourly Average", fontsize=4.5, pad=2)

# ---- 22. quarter circle scatter ----
ax = add_ax(284, 628, 179, 100)
ax.add_patch(Wedge((0, 0), Q_RADIUS, 0, 90, fc="#c9f6eb", ec="#9a9a9a", lw=0.6))
sns.scatterplot(x=q_in_x, y=q_in_y, color="black", s=4, linewidth=0, ax=ax)
ax.scatter(q_out_x, q_out_y, s=5, facecolors="none", edgecolors="#888888", lw=0.4)
for x, y, lab in zip(q_out_x, q_out_y, q_out_lab):
    ax.text(x + 0.03, y + 0.03, lab, fontsize=2.3, color="#555555")
ax.set_xlim(0, 3)
ax.set_ylim(0, 2.5)
ax.set_xticks(np.arange(0, 3.01, 0.2))
ax.set_xticklabels([f"{v:.1f}" for v in np.arange(0, 3.01, 0.2)])
ax.set_yticks(np.arange(0, 2.51, 0.5))
ax.set_yticklabels([f"{v:.1f}" for v in np.arange(0, 2.51, 0.5)])
tiny(ax, 2.3, 1, "#999999")

# ---- 23. histogram ----
ax = add_ax(578, 625, 131, 108)
hist_df = pd.DataFrame({
    "value": HIST_START + HIST_WIDTH * (np.arange(len(hist_counts)) + 0.5),
    "count": hist_counts,
})
sns.histplot(data=hist_df, x="value", weights="count", binwidth=HIST_WIDTH,
             binrange=(HIST_START, HIST_START + HIST_WIDTH * len(hist_counts)), kde=True,
             color="#f47d74", alpha=0.6, edgecolor="white", linewidth=0.2, line_kws=dict(lw=0.8), ax=ax)
ax.set_xlim(0, 100)
ax.set_ylim(0, 100)
ax.set_xticks(range(0, 101, 10))
ax.grid(True, axis="x", color="#e4e4e4", lw=0.4)
ax.set_axisbelow(True)
tiny(ax, 2.2, 1, "#aaaaaa")
ax.set_ylabel("")
ax.set_xlabel("")
ax.set_title("Iceland", fontsize=3.2, pad=1.2)

# ---- 24. grouped bars ----
ax = add_ax(832, 625, 165, 90)
for gi, yr in enumerate(gb_years):
    vals = {"a": gb_a[gi], "b": gb_b[gi], "c": gb_c[gi]}
    for k, key in enumerate(sorted(vals, key=vals.get)):
        xb = gi + (k - 1) * 0.25
        ax.bar(xb, vals[key], width=0.23, color=gb_colors[key], edgecolor="#777777", lw=0.3)
        ax.text(xb, vals[key] + 0.4, f"{vals[key]}%", ha="center", va="bottom", fontsize=3.3)
ax.set_xlim(-0.77, 4.73)
ax.set_ylim(0, 60)
ax.set_xticks(range(len(gb_years)))
ax.set_xticklabels(gb_years)
ax.set_xticks(np.arange(-0.5, len(gb_years)), minor=True)
ax.set_yticks(range(0, 61, 10))
ax.yaxis.set_minor_locator(MultipleLocator(2))
tiny(ax, 3.3, 1.5, "#999999")
ax.tick_params(axis="x", which="major", length=0)
handles = [Patch(facecolor=c, edgecolor="#777777", lw=0.3, label=k) for k, c in gb_colors.items()]
fig.legend(handles=handles, loc="center", bbox_to_anchor=(915 / W, 1 - 732 / H), ncol=3, fontsize=3.3,
           handlelength=1, handleheight=0.8, columnspacing=2.5, fancybox=False, edgecolor="#aaaaaa",
           borderpad=0.3)

# ---- 25. hatched box plots ----
ax = add_ax(1109, 622, 151, 111)
stats = [dict(med=m, q1=a, q3=b, whislo=lo, whishi=hi, fliers=fl)
         for m, a, b, lo, hi, fl in zip(box_med, box_q1, box_q3, box_lo, box_hi, box_fliers)]
ax.bxp(stats, positions=box_pos, widths=7, patch_artist=True, manage_ticks=False,
       boxprops=dict(facecolor="white", edgecolor="#555555", hatch="//////", lw=0.5),
       medianprops=dict(color="#555555", lw=0.6), whiskerprops=dict(color="#555555", lw=0.5),
       capprops=dict(color="#555555", lw=0.5),
       flierprops=dict(marker="d", ms=1.6, mfc="black", mec="black"))
ax.set_xlim(-10, 100)
ax.set_ylim(-3, 5)
ax.set_xticks(range(-10, 101, 10))
ax.set_yticks(range(-3, 6))
ax.grid(True, color="#ececec", lw=0.4)
ax.set_axisbelow(True)
tiny(ax, 2.3, 1, "#999999")

fig.savefig("out.png", dpi=100, facecolor="white")
